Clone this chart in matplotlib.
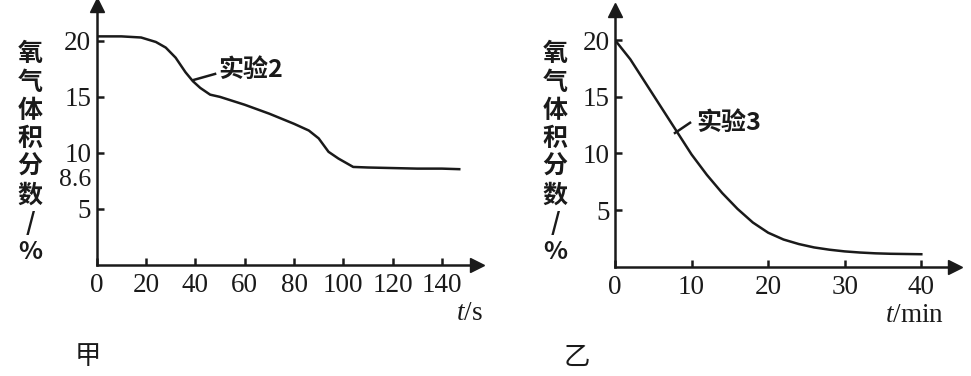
import matplotlib
matplotlib.use("Agg")
import matplotlib.pyplot as plt

plt.rcParams['font.family'] = ['Liberation Serif', 'Noto Sans CJK SC']
plt.rcParams['mathtext.fontset'] = 'custom'
plt.rcParams['mathtext.it'] = 'Liberation Serif:italic'
plt.rcParams['mathtext.rm'] = 'Liberation Serif'

# 甲: experiment 2, oxygen volume fraction vs time (s)
t2 = [0, 10, 18, 24, 28, 32, 36, 39, 42, 46, 50, 60, 70, 80, 86, 90, 94, 98, 104, 110, 120, 130, 140, 147]
o2 = [20.4, 20.4, 20.3, 19.9, 19.4, 18.5, 17.2, 16.4, 15.8, 15.2, 15.0, 14.3, 13.5, 12.6, 12.0, 11.3,
      10.1, 9.5, 8.75, 8.7, 8.65, 8.6, 8.6, 8.55]
# 乙: experiment 3, oxygen volume fraction vs time (min)
t3 = [0, 2, 4, 6, 8, 10, 12, 14, 16, 18, 20, 22, 24, 26, 28, 30, 32, 34, 36, 38, 40]
o3 = [20.0, 18.3, 16.2, 14.1, 12.0, 9.9, 8.1, 6.5, 5.1, 3.9, 3.0, 2.4, 2.0, 1.7, 1.5, 1.35, 1.25, 1.18,
      1.14, 1.12, 1.1]

xticks2 = [0, 20, 40, 60, 80, 100, 120, 140]
xticks3 = [0, 10, 20, 30, 40]
yticks = [5, 10, 15, 20]
ylabel = "氧\n气\n体\n积\n分\n数\n/\n%"
ink = '#1a1a1a'

W, H = 971, 376
fig = plt.figure(figsize=(W / 100, H / 100), dpi=100)


def make_axes(x0, y0, x1, y1, xmax, ymax):
    # pixel box -> figure fraction
    ax = fig.add_axes([x0 / W, (H - y0) / H, (x1 - x0) / W, (y0 - y1) / H])
    ax.set_xlim(0, xmax)
    ax.set_ylim(0, ymax)
    for s in ['top', 'right']:
        ax.spines[s].set_visible(False)
    for s in ['left', 'bottom']:
        ax.spines[s].set_linewidth(1.8)
        ax.spines[s].set_color(ink)
    ax.tick_params(direction='in', length=5, width=1.8, colors=ink, labelsize=19.5, pad=6)
    ax.plot(1, 0, '>', color=ink, ms=10, transform=ax.transAxes, clip_on=False)
    ax.plot(0, 1, '^', color=ink, ms=10, transform=ax.transAxes, clip_on=False)
    ax.patch.set_visible(False)
    return ax


# left panel
ax1 = make_axes(96.7, 265, 477, 5, 154.2, 23.2)
ax1.plot(t2, o2, color=ink, lw=1.8)
ax1.set_xticks(xticks2)
ax1.set_yticks(yticks)
ax1.tick_params(axis='y', pad=4)
ax1.text(-2.3, 7.55, "8.6", ha='right', va='center', fontsize=18.5, color=ink)
ax1.plot([39.1, 48.0], [16.5, 17.05], color=ink, lw=1.8)
ax1.text(49.2, 17.4, "实验2", ha='left', va='center', fontsize=18, color=ink,
         family=['Noto Sans CJK SC'], fontweight='bold')

# right panel
ax2 = make_axes(615, 266.7, 955, 10, 44.4, 22.65)
ax2.plot(t3, o3, color=ink, lw=1.8)
ax2.set_xticks(xticks3)
ax2.set_yticks(yticks)
ax2.tick_params(axis='y', pad=4)
ax2.plot([7.83, 9.8], [11.8, 12.7], color=ink, lw=1.8)
ax2.text(10.67, 12.7, "实验3", ha='left', va='center', fontsize=18, color=ink,
         family=['Noto Sans CJK SC'], fontweight='bold')

# y labels, stacked vertically
for xc in [30, 555]:
    fig.text(xc / W, 1 - 153 / H, ylabel, ha='center', va='center', fontsize=18,
             linespacing=1.22, color=ink, family=['Noto Sans CJK SC', 'DejaVu Sans'],
             fontweight='bold')

# x labels
fig.text(469 / W, 1 - 314 / H, r"$t$/s", ha='center', va='center', fontsize=19.5, color=ink)
fig.text(914 / W, 1 - 315 / H, r"$t$/min", ha='center', va='center', fontsize=19.5, color=ink)

# panel captions
fig.text(88 / W, 1 - 356 / H, "甲", ha='center', va='center', fontsize=19, color=ink,
         family=['Noto Sans CJK SC'])
fig.text(577 / W, 1 - 357 / H, "乙", ha='center', va='center', fontsize=19, color=ink,
         family=['Noto Sans CJK SC'])

fig.savefig("out.png", dpi=100)
